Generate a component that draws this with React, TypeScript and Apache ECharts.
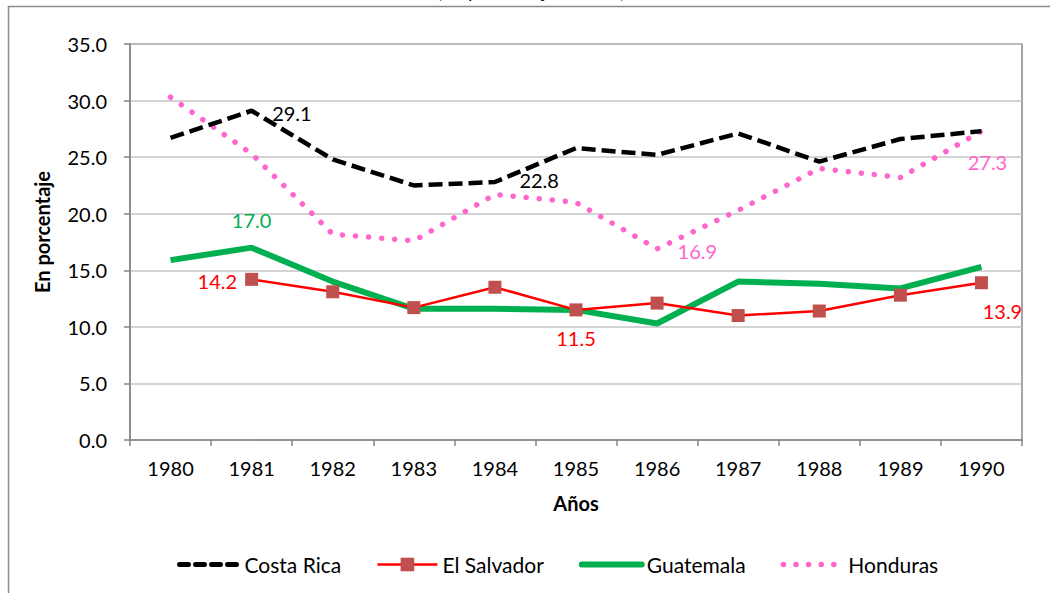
import React, { useEffect, useRef } from "react";
import * as echarts from "echarts";

const years = ["1980", "1981", "1982", "1983", "1984", "1985", "1986", "1987", "1988", "1989", "1990"];
const costaRica = [26.7, 29.1, 24.8, 22.5, 22.8, 25.8, 25.2, 27.1, 24.6, 26.6, 27.3];
const elSalvador = [null, 14.2, 13.1, 11.7, 13.5, 11.5, 12.1, 11.0, 11.4, 12.8, 13.9];
const guatemala = [15.9, 17.0, 14.0, 11.6, 11.6, 11.5, 10.3, 14.0, 13.8, 13.4, 15.3];
const honduras = [30.3, 25.3, 18.2, 17.6, 21.7, 21.0, 16.9, 20.3, 24.0, 23.2, 27.3];
const seriesNames = ["Costa Rica", "El Salvador", "Guatemala", "Honduras"];
const yTicks = [0, 5, 10, 15, 20, 25, 30, 35];

const FONT = "Lato, 'Open Sans', sans-serif";
const FS = 20;
const CLEAR = "rgba(0,0,0,0)";

const lineStyles: any[] = [
  { color: "#000000", width: 4.5, type: [14, 6], cap: "butt" },
  { color: "#FF0000", width: 2.5 },
  { color: "#00B050", width: 6 },
  { color: "#FF66CC", width: 5.5, type: [0.1, 13], cap: "round" },
];
const legendLineStyles: any[] = [
  { color: "#000000", width: 5, type: [9, 7], cap: "round" },
  { color: "#FF0000", width: 2.5 },
  { color: "#00B050", width: 6, cap: "round" },
  { color: "#FF66CC", width: 5.5, type: [0.1, 12.5], cap: "round" },
];

type LabelSpec = { idx: number; position: any; distance: number; offset?: number[] };

function withLabels(values: (number | null)[], specs: LabelSpec[], color: string) {
  return values.map((v, i) => {
    const s = specs.find((x) => x.idx === i);
    if (!s || v === null) return v;
    return {
      value: v,
      label: {
        show: true,
        position: s.position,
        distance: s.distance,
        offset: s.offset || [0, 0],
        color,
        fontFamily: FONT,
        fontSize: FS,
        formatter: (p: any) => Number(p.value).toFixed(1),
      },
    };
  });
}

export default function App() {
  const ref = useRef<HTMLDivElement>(null);
  useEffect(() => {
    if (!ref.current) return;
    const chart = echarts.init(ref.current, null, { renderer: "svg" });
    const option: any = {
      animation: false,
      backgroundColor: "#ffffff",
      textStyle: { fontFamily: FONT },
      graphic: [
        {
          type: "line",
          shape: { x1: 8, y1: 6.5, x2: 1050, y2: 6.5 },
          style: { stroke: "#8c8c8c", lineWidth: 1.5 },
          z: 100,
        },
        {
          type: "line",
          shape: { x1: 8.5, y1: 6, x2: 8.5, y2: 593 },
          style: { stroke: "#8c8c8c", lineWidth: 1.5 },
          z: 100,
        },
        {
          type: "text",
          x: 531,
          y: -19,
          z: 100,
          style: {
            text: "(En porcentaje del PIB)",
            font: "19px " + FONT,
            fill: "#000",
            textAlign: "center",
            textVerticalAlign: "top",
          },
        },
        {
          type: "text",
          x: 42,
          y: 232,
          rotation: Math.PI / 2,
          z: 100,
          style: {
            text: "En porcentaje",
            font: "bold " + FS + "px " + FONT,
            fill: "#000",
            textAlign: "center",
            textVerticalAlign: "middle",
          },
        },
      ],
      grid: {
        left: 130,
        right: 28,
        top: 44,
        bottom: 153,
        show: true,
        borderColor: "#868686",
        borderWidth: 1.5,
      },
      legend: {
        data: seriesNames.map((n, i) =>
          i === 1
            ? { name: n, lineStyle: legendLineStyles[i] }
            : { name: n, lineStyle: legendLineStyles[i], itemStyle: { color: CLEAR, opacity: 0 } }
        ),
        left: 172,
        top: 549,
        itemWidth: 60,
        itemHeight: 17,
        itemGap: 35,
        textStyle: { fontFamily: FONT, fontSize: 21, color: "#000" },
      },
      xAxis: {
        type: "category",
        data: years,
        boundaryGap: true,
        name: "Años",
        nameLocation: "middle",
        nameGap: 53,
        nameTextStyle: { fontFamily: FONT, fontSize: FS, fontWeight: "bold", color: "#000" },
        axisLine: { lineStyle: { color: "#868686", width: 1.5 } },
        axisTick: { show: true, length: 6, lineStyle: { color: "#868686", width: 1.5 } },
        axisLabel: { margin: 18, fontFamily: FONT, fontSize: FS, color: "#000" },
        splitLine: { show: false },
      },
      yAxis: {
        type: "value",
        min: yTicks[0],
        max: yTicks[yTicks.length - 1],
        interval: 5,
        axisLine: { show: true, lineStyle: { color: "#868686", width: 1.5 } },
        axisTick: { show: true, length: 6, lineStyle: { color: "#868686", width: 1.5 } },
        axisLabel: {
          margin: 23,
          fontFamily: FONT,
          fontSize: FS,
          color: "#000",
          formatter: (v: number) => v.toFixed(1),
        },
        splitLine: { show: true, lineStyle: { color: "#C4C4C4", width: 1.5 } },
      },
      series: [
        {
          name: seriesNames[0],
          type: "line",
          symbol: "circle",
          symbolSize: 1,
          itemStyle: { color: CLEAR },
          lineStyle: lineStyles[0],
          data: withLabels(
            costaRica,
            [
              { idx: 1, position: "right", distance: 20, offset: [0, 2] },
              { idx: 4, position: "right", distance: 24, offset: [0, -2] },
            ],
            "#000000"
          ),
          z: 4,
        },
        {
          name: seriesNames[1],
          type: "line",
          symbol: "rect",
          symbolSize: 13,
          itemStyle: { color: "#C0504D" },
          lineStyle: lineStyles[1],
          data: withLabels(
            elSalvador,
            [
              { idx: 1, position: "left", distance: 8, offset: [0, 2] },
              { idx: 5, position: "bottom", distance: 12 },
              { idx: 10, position: "bottom", distance: 12, offset: [21, 0] },
            ],
            "#FF0000"
          ),
          z: 3,
        },
        {
          name: seriesNames[2],
          type: "line",
          symbol: "circle",
          symbolSize: 1,
          itemStyle: { color: CLEAR },
          lineStyle: lineStyles[2],
          data: withLabels(guatemala, [{ idx: 1, position: "top", distance: 17 }], "#00B050"),
          z: 2,
        },
        {
          name: seriesNames[3],
          type: "line",
          symbol: "circle",
          symbolSize: 1,
          itemStyle: { color: CLEAR },
          lineStyle: lineStyles[3],
          data: withLabels(
            honduras,
            [
              { idx: 6, position: "right", distance: 20, offset: [0, 2] },
              { idx: 10, position: "bottom", distance: 20, offset: [6, 0] },
            ],
            "#FF66CC"
          ),
          z: 1,
        },
      ],
    };
    chart.setOption(option);
    return () => chart.dispose();
  }, []);
  return (
    <div
      ref={ref}
      style={{ position: "fixed", left: 0, top: 0, width: 1050, height: 593, background: "#fff" }}
    />
  );
}
